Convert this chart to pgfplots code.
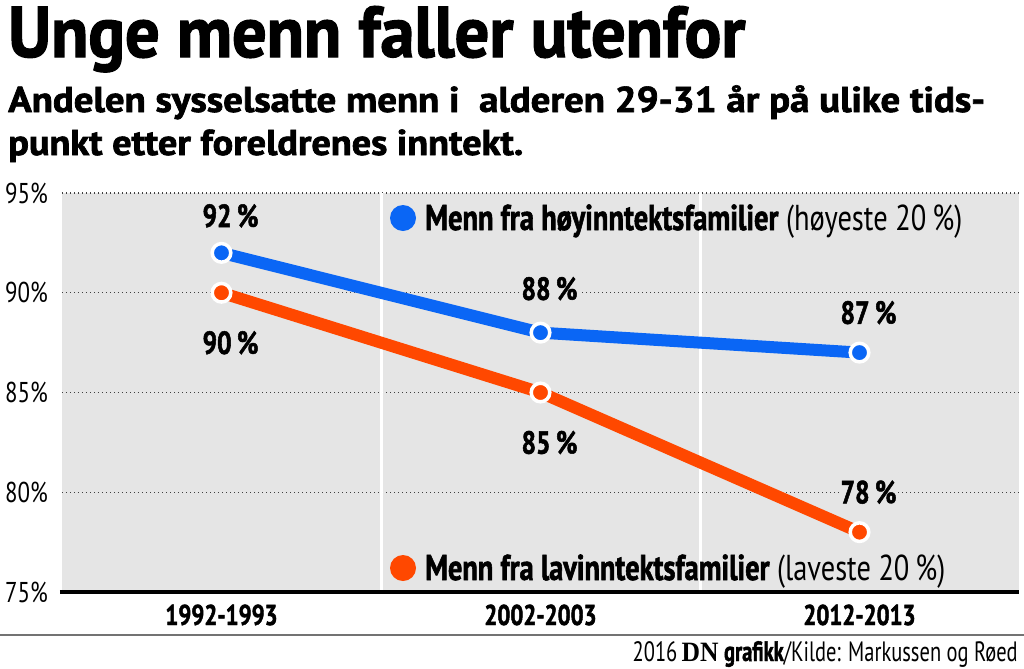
\documentclass[border=0pt]{standalone}
\usepackage{pgfplots}
\pgfplotsset{compat=1.18}
\usepackage{graphicx}
\usepackage{fontspec}
\setmainfont{PT Sans}[FakeStretch=0.8, BoldFeatures={FakeBold=1.6}]
\newfontfamily\dnserif{Liberation Serif}
\newlength{\px}\setlength{\px}{0.75pt}
\definecolor{bggray}{RGB}{229,229,229}
\definecolor{dnblue}{RGB}{10,102,245}
\definecolor{dnorange}{RGB}{255,72,0}
\newcommand\fitw[2]{\resizebox{#1}{\height}{#2}}
\tikzset{lbl/.style={font=\fontsize{24}{26}\selectfont\bfseries, fill=bggray, inner sep=1.5pt, xshift=9\px}}
\begin{document}
\begin{tikzpicture}
\useasboundingbox (0,0) rectangle (1024\px,-668\px);
\fill[white] (0,0) rectangle (1024\px,-668\px);
% title and subtitle
\node[anchor=base west, inner sep=0pt] at (8\px,-57\px)
  {\fitw{737\px}{\fontsize{54}{60}\selectfont\bfseries Unge menn faller utenfor}};
\node[anchor=base west, inner sep=0pt] at (8\px,-112\px)
  {\fitw{977\px}{\fontsize{27}{32}\selectfont\bfseries Andelen sysselsatte menn i\ \ alderen 29-31 år på ulike tids-}};
\node[anchor=base west, inner sep=0pt] at (8\px,-155\px)
  {\fitw{515\px}{\fontsize{27}{32}\selectfont\bfseries punkt etter foreldrenes inntekt.}};
\begin{axis}[
  at={(62\px,-592\px)}, anchor=south west,
  scale only axis, width=957\px, height=399\px,
  xmin=-0.5, xmax=2.5, ymin=75, ymax=95,
  axis line style={draw=none},
  axis background/.style={fill=bggray},
  xtick={0,1,2}, xticklabels={1992-1993,2002-2003,2012-2013},
  ytick={75,80,85,90,95}, yticklabels={75\%,80\%,85\%,90\%,95\%},
  major tick length=0pt,
  ymajorgrids,
  major grid style={black!75, line width=1.1\px, dash pattern=on 1.2\px off 2.8\px},
  yticklabel style={font=\fontsize{21.5}{23}\selectfont, anchor=east, inner sep=0pt, xshift=-14\px},
  xticklabel style={font=\fontsize{21.5}{23}\selectfont\bfseries, anchor=base, inner sep=0pt, yshift=-33\px},
  clip=false,
]
\draw[white, line width=3\px] (axis cs:0.5,75) -- (axis cs:0.5,95);
\draw[white, line width=3\px] (axis cs:1.5,75) -- (axis cs:1.5,95);
\draw[black, line width=3.5\px] ([xshift=-2\px]rel axis cs:0,0) -- (rel axis cs:1,0);
\addplot[dnorange, line width=12\px, line join=round, mark=*, mark size=9.3\px,
  mark options={fill=dnorange, draw=white, line width=3.5\px}]
  coordinates {(0,90) (1,85) (2,78)};
\addplot[dnblue, line width=12\px, line join=round, mark=*, mark size=9.3\px,
  mark options={fill=dnblue, draw=white, line width=3.5\px}]
  coordinates {(0,92) (1,88) (2,87)};
\node[lbl, yshift=37\px] at (axis cs:0,92) {92\,\%};
\node[lbl, yshift=-50\px] at (axis cs:0,90) {90\,\%};
\node[lbl, yshift=44\px] at (axis cs:1,88) {88\,\%};
\node[lbl, yshift=-50\px] at (axis cs:1,85) {85\,\%};
\node[lbl, yshift=40\px] at (axis cs:2,87) {87\,\%};
\node[lbl, yshift=40\px] at (axis cs:2,78) {78\,\%};
\end{axis}
% legend entries
\fill[dnblue] (403\px,-218\px) circle (13\px);
\node[anchor=base west, inner sep=0pt] at (425\px,-230\px)
  {\fitw{537\px}{\fontsize{27}{30}\selectfont{\bfseries Menn fra høyinntektsfamilier} (høyeste 20\,\%)}};
\fill[dnorange] (403\px,-568\px) circle (13\px);
\node[anchor=base west, inner sep=0pt] at (425\px,-580\px)
  {\fitw{520\px}{\fontsize{27}{30}\selectfont{\bfseries Menn fra lavinntektsfamilier} (laveste 20\,\%)}};
% footer
\draw[black!55, line width=1.5\px] (0,-635\px) -- (1024\px,-635\px);
\node[anchor=base east, inner sep=0pt] at (1018\px,-661\px)
  {\fitw{385\px}{\fontsize{21}{24}\selectfont 2016\,{\dnserif\bfseries DN} {\bfseries grafikk}/Kilde: Markussen og Røed}};
\end{tikzpicture}
\end{document}
